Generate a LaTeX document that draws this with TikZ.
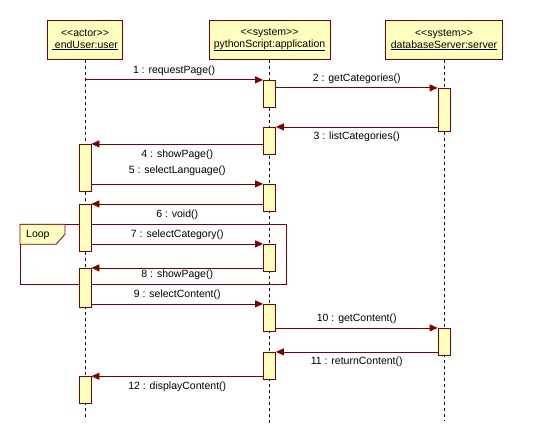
\documentclass[tikz,border=0pt]{standalone}
\usepackage{fontspec}
\setmainfont{Liberation Sans}[Ligatures=TeXOff]
\usetikzlibrary{arrows.meta, positioning}
\definecolor{umlred}{HTML}{800000}
\definecolor{umlfill}{HTML}{FFFFC0}
\tikzset{
    umlfont/.style={font=\fontsize{10.5}{12}\selectfont},
    hdr/.style={draw=umlred, fill=umlfill, line width=0.8pt, align=center, minimum height=39pt, inner sep=1pt, umlfont},
    act/.style={draw=umlred, fill=umlfill, line width=0.8pt, minimum width=12pt, inner sep=0pt},
    life/.style={dash pattern=on 3pt off 3pt, line width=0.8pt},
    msg/.style={draw=umlred, line width=0.8pt, -{Triangle[length=8pt,width=7pt]}},
    lbl/.style={midway, umlfont, text height=7pt, text depth=2pt, inner sep=0pt, text=black},
    lblup/.style={lbl, yshift=#1},
    lblup/.default=9pt,
    lbldn/.style={lbl, yshift=-#1},
    lbldn/.default=10.5pt
}

\begin{document}
\begin{tikzpicture}[x=1pt, y=-1pt]
    \useasboundingbox (0,0) rectangle (533,444);
    % objects
    \node[hdr, minimum width=75pt] (user) at (85,39.8) {<<actor>>\\\underline{\ endUser:user}};
    \node[hdr, minimum width=121pt] (app) at (269.5,39.8) {<<system>>\\\underline{pythonScript:application}};
    \node[hdr, minimum width=117pt] (srv) at (444,39.8) {<<system>>\\\underline{databaseServer:server}};
    % lifelines
    \coordinate (userend) at (85,416.7);
    \coordinate (append) at (269.5,423);
    \coordinate (srvend) at (444,420);
    \draw[life] (user) -- (userend);
    \draw[life] (app) -- (append);
    \draw[life] (srv) -- (srvend);
    % loop frame
    \draw[umlred, line width=0.8pt] (20,224.3) rectangle (286.7,284.3);
    \draw[umlred, fill=umlfill, line width=0.8pt] (20,224.3) -- (65,224.3) -- (65,234.3) -- (56,244.3) -- (20,244.3) -- cycle;
    \node[umlfont, anchor=west, inner sep=0pt] (loop) at (26,234.5) {Loop};
    % activations
    \node[act, minimum height=47pt] (u1) at (85,167.8) {};
    \node[act, minimum height=46.7pt] (u2) at (85,227.7) {};
    \node[act, minimum height=39pt] (u3) at (85,287.8) {};
    \node[act, minimum height=26.7pt] (u4) at (85,390) {};
    \node[act, minimum height=27pt] (a1) at (269.5,93.8) {};
    \node[act, minimum height=27pt] (a2) at (269.5,140.8) {};
    \node[act, minimum height=27pt] (a3) at (269.5,197.8) {};
    \node[act, minimum height=27pt] (a4) at (269.5,257.8) {};
    \node[act, minimum height=27pt] (a5) at (269.5,317.8) {};
    \node[act, minimum height=27pt] (a6) at (269.5,365.8) {};
    \node[act, minimum height=43pt] (s1) at (444,109.8) {};
    \node[act, minimum height=27pt] (s2) at (444,341.8) {};
    % messages
    \draw[msg] (user |- a1.north) -- node[lblup=8.6pt] (m1) {1 : requestPage()} (a1.north west);
    \draw[msg] (a1.east |- s1.north) -- node[lblup] (m2) {2 : getCategories()} (s1.north west);
    \draw[msg] (s1.west |- a2.north) -- node[lbldn=10.4pt] (m3) {3 : listCategories()} (a2.north east);
    \draw[msg] (a2.west |- u1.north) -- node[lbldn=10.7pt] (m4) {4 : showPage()} (u1.north east);
    \draw[msg] (u1.east |- a3.north) -- node[lblup=13pt] (m5) {5 : selectLanguage()} (a3.north west);
    \draw[msg] (a3.west |- u2.north) -- node[lbldn=10.7pt] (m6) {6 : void()} (u2.north east);
    \draw[msg] (u2.east |- a4.north) -- node[lblup] (m7) {7 : selectCategory()} (a4.north west);
    \draw[msg] (a4.west |- u3.north) -- node[lbldn=6.7pt] (m8) {8 : showPage()} (u3.north east);
    \draw[msg] (u3.east |- a5.north) -- node[lblup=9.3pt] (m9) {9 : selectContent()} (a5.north west);
    \draw[msg] (a5.east |- s2.north) -- node[lblup=9.3pt] (m10) {10 : getContent()} (s2.north west);
    \draw[msg] (s2.west |- a6.north) -- node[lbldn=10.4pt] (m11) {11 : returnContent()} (a6.north east);
    \draw[msg] (a6.west |- u4.north) -- node[lbldn=10.6pt] (m12) {12 : displayContent()} (u4.north east);
\end{tikzpicture}
\end{document}
